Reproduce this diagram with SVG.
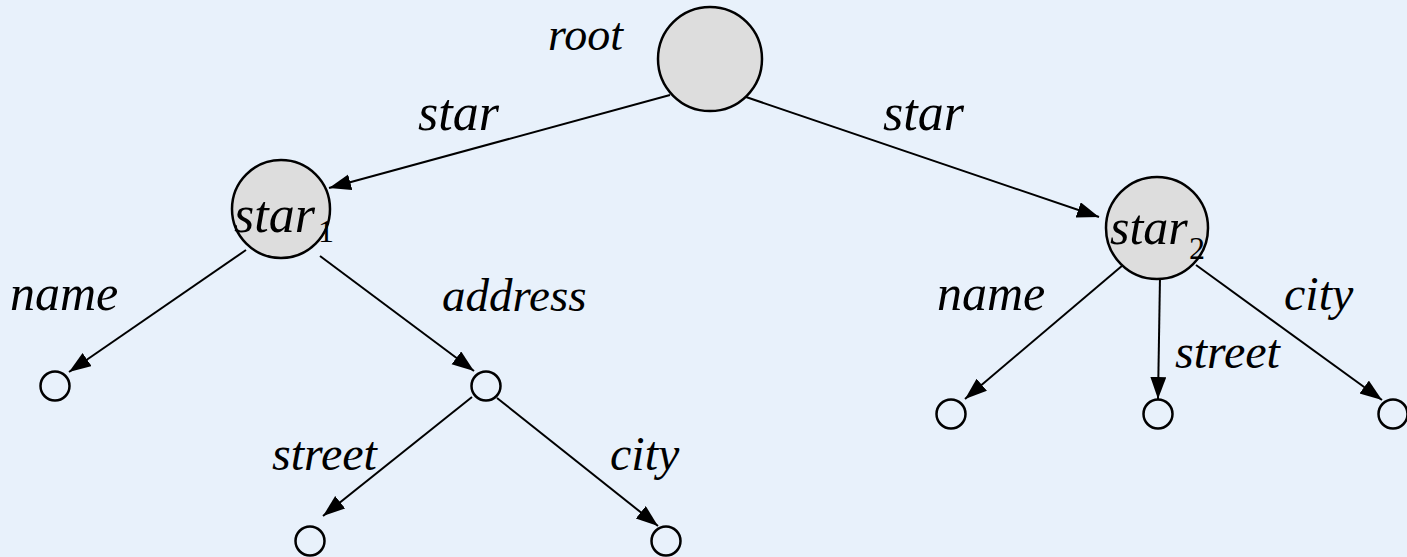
<svg xmlns="http://www.w3.org/2000/svg" width="1407" height="557" viewBox="0 0 1407 557">
<defs>
<style>
.big{fill:#dddddd;stroke:#000;stroke-width:2.5}
.leaf{fill:none;stroke:#000;stroke-width:2.5}
.edge{stroke:#000;stroke-width:2;fill:none;marker-end:url(#arr)}
text{font-family:"Liberation Serif","Times New Roman",serif;font-style:italic;font-size:48px;fill:#000}
.sub{font-style:normal;font-size:32px}
</style>
<marker id="arr" markerUnits="userSpaceOnUse" markerWidth="24" markerHeight="18" refX="22" refY="8" orient="auto">
<path d="M0,0 L22,8 L0,16 Z" fill="#000"/>
</marker>
</defs>
<rect width="1407" height="557" fill="#e8f1fb"/>
<g id="connectors">
<line class="edge" x1="670" y1="95" x2="329" y2="188"/>
<line class="edge" x1="746" y1="97" x2="1099" y2="217"/>
<line class="edge" x1="246" y1="250" x2="69" y2="372"/>
<line class="edge" x1="320" y1="256" x2="474" y2="371"/>
<line class="edge" x1="472" y1="397" x2="323" y2="516"/>
<line class="edge" x1="497" y1="398" x2="658" y2="526"/>
<line class="edge" x1="1123" y1="265" x2="965" y2="399"/>
<line class="edge" x1="1160" y1="277" x2="1158" y2="399"/>
<line class="edge" x1="1196" y1="265" x2="1382" y2="400"/>
</g>
<g id="labels">
<text x="548" y="50" style="font-size:46px">root</text>
<text x="418" y="130" style="font-size:52px">star</text>
<text x="883" y="130" style="font-size:52px">star</text>
<text x="10" y="310" style="font-size:50px">name</text>
<text x="442" y="311" style="font-size:47px">address</text>
<text x="937" y="310" style="font-size:50px">name</text>
<text x="1284" y="310">city</text>
<text x="1175" y="368">street</text>
<text x="272" y="470">street</text>
<text x="610" y="470">city</text>
</g>
<g id="root"><circle class="big" cx="710" cy="59" r="52"/></g>
<g id="star1"><circle class="big" cx="281" cy="209" r="49"/><text x="234" y="232" style="font-size:52px">star</text><text class="sub" x="318" y="242">1</text></g>
<g id="star2"><circle class="big" cx="1157" cy="228" r="51"/><text x="1110" y="244" style="font-size:50px">star</text><text class="sub" x="1189" y="259">2</text></g>
<g id="leaf1"><circle class="leaf" cx="55" cy="386" r="14.5"/></g>
<g id="leaf2"><circle class="leaf" cx="486" cy="386" r="14.5"/></g>
<g id="leaf3"><circle class="leaf" cx="310" cy="541" r="14.5"/></g>
<g id="leaf4"><circle class="leaf" cx="666" cy="541" r="14.5"/></g>
<g id="leaf5"><circle class="leaf" cx="951" cy="414" r="14.5"/></g>
<g id="leaf6"><circle class="leaf" cx="1158" cy="414" r="14.5"/></g>
<g id="leaf7"><circle class="leaf" cx="1393" cy="414" r="14.5"/></g>
</svg>
